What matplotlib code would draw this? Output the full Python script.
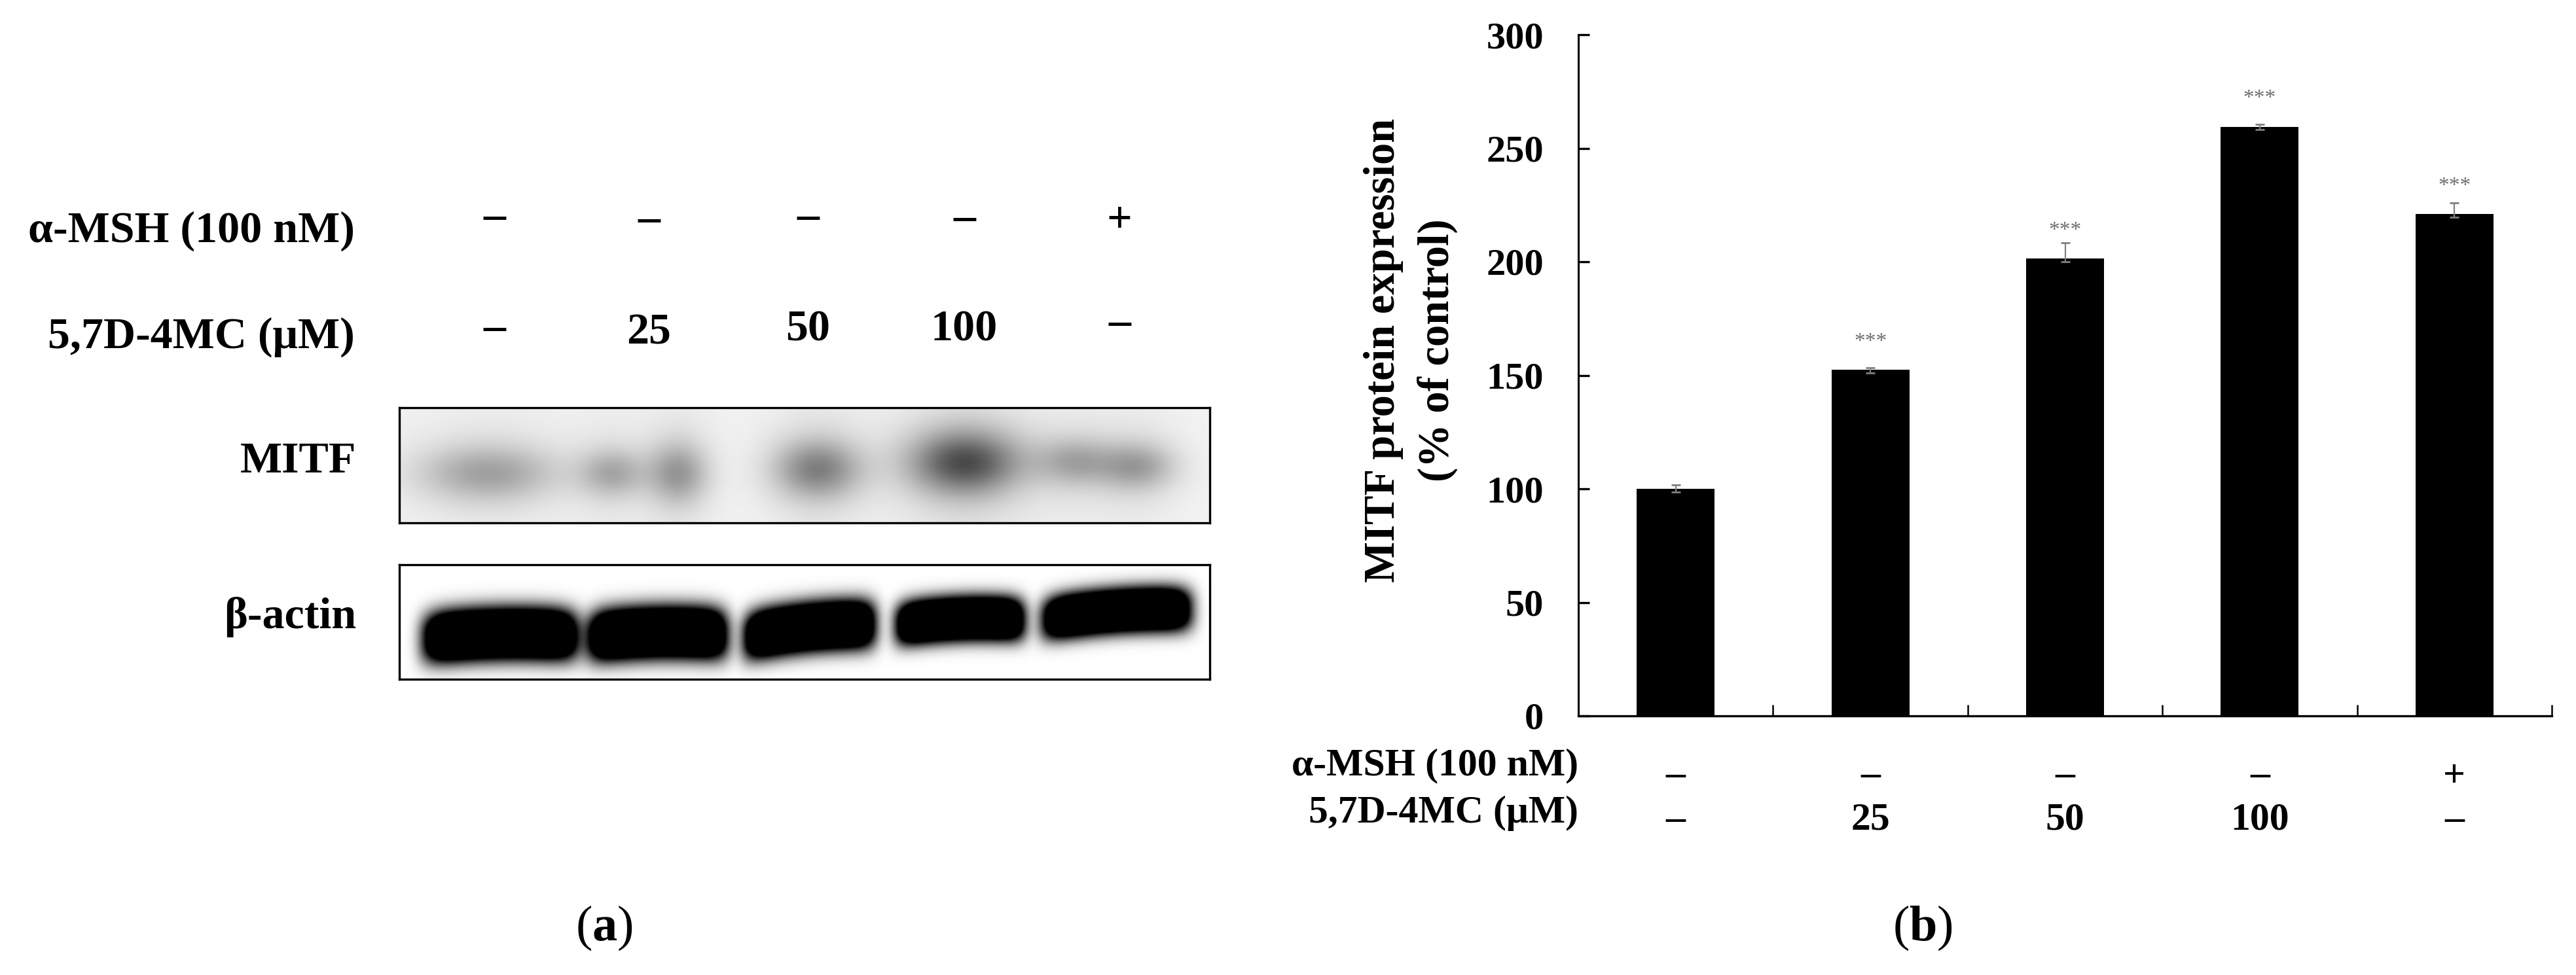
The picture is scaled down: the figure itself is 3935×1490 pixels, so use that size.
"""MITF western blot (a) and densitometry bar chart (b)."""

import matplotlib
matplotlib.use('Agg')
import matplotlib.pyplot as plt
from matplotlib.transforms import blended_transform_factory
import numpy as np

# bar chart values
groups = ['ctrl', '25', '50', '100', 'msh']
expression = [100, 152.4, 201.3, 259.4, 221]
errors_up = [1.8, 1, 7, 1, 5]
errors_down = [1.3, 1.3, 1.3, 1.3, 1.3]
star_levels = [None, 164.7, 213.7, 271.7, 233.2]
y_ticks = [0, 50, 100, 150, 200, 250, 300]

# treatment rows
row_names = ['α-MSH (100 nM)', '5,7D-4MC (μM)']
msh_row = ['–', '–', '–', '–', '+']
mc_row = ['–', '25', '50', '100', '–']
blot_names = ['MITF', 'β-actin']

# blot bands: centre x, centre y, half width, half height, darkness
mitf_x = [745, 935, 1035, 1248, 1473, 1640, 1735]
mitf_y = [722, 722, 722, 716, 706, 705, 712]
mitf_w = [105, 50, 45, 66, 85, 58, 58]
mitf_h = [42, 36, 46, 44, 48, 36, 36]
mitf_dark = [0.27, 0.24, 0.30, 0.38, 0.55, 0.24, 0.28]

actin_x = [764, 1004, 1236, 1466, 1705]
actin_y = [968, 966, 958, 945, 933]
actin_w = [118, 106, 100, 98, 113]
actin_h = [40, 40, 38, 34, 34]
actin_tilt = [-0.02, -0.02, -0.10, -0.04, -0.07]

W, H = 3935, 1490
SERIF = ['Liberation Serif', 'DejaVu Serif']
plt.rcParams['font.family'] = SERIF
plt.rcParams['mathtext.fontset'] = 'custom'
plt.rcParams['mathtext.bf'] = 'Liberation Serif:bold'
plt.rcParams['mathtext.rm'] = 'Liberation Serif'

fig = plt.figure(figsize=(W / 100, H / 100), dpi=100)


def fx(px):
    return px / W


def fy(py):
    return 1 - py / H


def box_axes(left, top, right, bottom):
    return fig.add_axes([fx(left), fy(bottom), (right - left) / W, (bottom - top) / H])


def draw_blot(top, bottom, img):
    ax = box_axes(610, top, 1848, bottom)
    ax.imshow(img, cmap='gray', vmin=0, vmax=1, aspect='auto',
              extent=(610, 1848, bottom, top), interpolation='bilinear')
    ax.set_xticks([])
    ax.set_yticks([])
    for s in ax.spines.values():
        s.set_linewidth(2.4)


# MITF: soft grey blobs with a faint vertical smear on a pale background
gx, gy = np.meshgrid(np.arange(610, 1848, 2.0), np.arange(623, 799, 2.0))
mitf_img = np.full(gx.shape, 0.95)
for x0, y0, w0, h0, d0 in zip(mitf_x, mitf_y, mitf_w, mitf_h, mitf_dark):
    mitf_img -= d0 * np.exp(-((gx - x0) / w0) ** 2 - ((gy - y0) / h0) ** 2)
    mitf_img -= 0.2 * d0 * np.exp(-((gx - x0) / (1.2 * w0)) ** 2 - ((gy - y0) / (2.6 * h0)) ** 2)
draw_blot(623, 799, np.clip(mitf_img, 0, 1))

# actin: saturated bands with blurred edges, ends sag a little
gx, gy = np.meshgrid(np.arange(610, 1848, 2.0), np.arange(863, 1038, 2.0))
actin_img = np.ones(gx.shape)
for x0, y0, w0, h0, t0 in zip(actin_x, actin_y, actin_w, actin_h, actin_tilt):
    dy = gy - y0 - t0 * (gx - x0) - 6 * ((gx - x0) / w0) ** 2
    actin_img -= 2.2 * np.exp(-((gx - x0) / w0) ** 8 - (np.abs(dy) / h0) ** 2.6)
draw_blot(863, 1038, np.clip(actin_img, 0, 1))

# left panel labels
left_cols = [755, 991, 1234, 1473, 1710]
for lab, y in zip(row_names, [353, 515]):
    fig.text(fx(542), fy(y), lab, fontsize=49, fontweight='bold', ha='right', va='center')
for lab, x, y in zip(msh_row, left_cols, [333, 336, 333, 335, 339]):
    fig.text(fx(x), fy(y), lab, fontsize=49, fontweight='bold', ha='center', va='center')
for lab, x, y in zip(mc_row, left_cols, [503, 509, 504, 504, 494]):
    fig.text(fx(x), fy(y), lab, fontsize=49, fontweight='bold', ha='center', va='center')
for lab, y in zip(blot_names, [705, 943]):
    fig.text(fx(544), fy(y), lab, fontsize=49, fontweight='bold', ha='right', va='center')

# right panel bars
ax = box_axes(2411, 53, 3898, 1094)
pos = np.arange(len(groups)) + 0.5
ax.bar(pos, expression, width=0.4, color='black')
ax.errorbar(pos, expression, yerr=[errors_down, errors_up], fmt='none', ecolor='#808080',
            elinewidth=1.6, capsize=5, capthick=2, zorder=5)
for x, lvl in zip(pos, star_levels):
    if lvl is not None:
        ax.text(x, lvl, '***', fontsize=24, color='#707070', ha='center', va='center')

ax.set_xlim(0, 5)
ax.set_ylim(0, 300)
ax.set_xticks(range(1, 6))
ax.set_xticklabels([])
ax.set_yticks(y_ticks)
ax.set_yticklabels([str(v) for v in y_ticks], fontsize=42, fontweight='bold')
ax.tick_params(axis='x', direction='in', length=12, width=1.8)
ax.tick_params(axis='y', direction='in', length=12, width=2.4, pad=38)
ax.spines['top'].set_visible(False)
ax.spines['right'].set_visible(False)
ax.spines['left'].set_linewidth(2.2)
ax.spines['bottom'].set_linewidth(2.4)

# y label lines sit side by side
fig.text(fx(2113), fy(535), 'MITF protein expression', fontsize=48, fontweight='bold',
         rotation=90, ha='center', va='center')
fig.text(fx(2196), fy(535), '(% of control)', fontsize=48, fontweight='bold',
         rotation=90, ha='center', va='center')

# treatment table below the bars
trans = blended_transform_factory(ax.transData, fig.transFigure)
for lab, y in zip(row_names, [1170, 1243]):
    fig.text(fx(2411), fy(y), lab, fontsize=43, fontweight='bold', ha='right', va='center')
for x, lab, y in zip(pos, msh_row, [1186, 1186, 1186, 1186, 1188]):
    ax.text(x, fy(y), lab, transform=trans, fontsize=43, fontweight='bold',
            ha='center', va='center', clip_on=False)
for x, lab in zip(pos, mc_row):
    ax.text(x, fy(1254), lab, transform=trans, fontsize=43, fontweight='bold',
            ha='center', va='center', clip_on=False)

# panel captions
fig.text(fx(923), fy(1418), r'($\mathbf{a}$)', fontsize=55, ha='center', va='center')
fig.text(fx(2937), fy(1418), r'($\mathbf{b}$)', fontsize=55, ha='center', va='center')

fig.savefig('out.png', dpi=100)
plt.close(fig)
